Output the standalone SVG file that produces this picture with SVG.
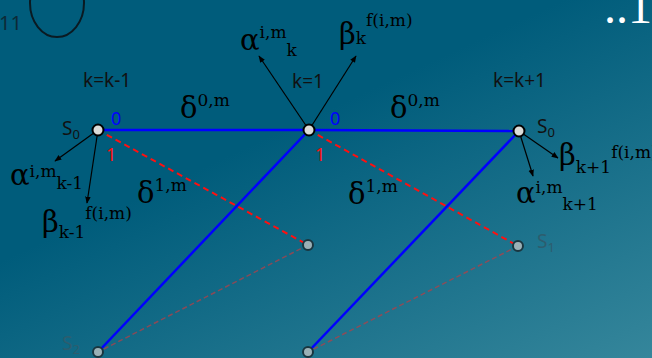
<svg xmlns="http://www.w3.org/2000/svg" width="652" height="358" viewBox="0 0 652 358">
<defs>
<linearGradient id="bg" x1="0.45" y1="0.35" x2="1" y2="1">
<stop offset="0" stop-color="#005c7b"/>
<stop offset="1" stop-color="#35869b"/>
</linearGradient>
<marker id="ah" viewBox="0 0 10 10" refX="9" refY="5" markerWidth="7" markerHeight="7" orient="auto" markerUnits="userSpaceOnUse">
<path d="M0,1 L10,5 L0,9 z" fill="#000"/>
</marker>
<style>
.sans{font-family:"Noto Sans","DejaVu Sans",sans-serif;fill:#111}
.m{font-family:"DejaVu Serif","Liberation Serif",serif;fill:#000}
.g{font-size:29px}
.s{font-size:17px}
.blue{stroke:#0000ff;stroke-width:2.5;fill:none}
.red{stroke:#ff1010;stroke-width:2;stroke-dasharray:6 4;fill:none}
.thin{stroke:#b04048;stroke-width:1.5;stroke-dasharray:5 3;fill:none;opacity:0.75}
.arr{stroke:#000;stroke-width:1.2;fill:none;marker-end:url(#ah)}
.top{fill:#dcdcd8;stroke:#000;stroke-width:2}
.low{fill:#9ab0b6;stroke:#1a3640;stroke-width:2}
</style>
</defs>
<rect width="652" height="358" fill="url(#bg)"/>
<text x="-1" y="30" class="sans" style="font-size:20px;fill:#0d2a36">11</text>
<ellipse cx="57" cy="3" rx="27" ry="34" fill="none" stroke="#0a1a22" stroke-width="2"/>
<text x="604" y="23" style="font-family:'Liberation Serif',serif;font-size:48px;fill:#ffffff">..1</text>

<g id="connectors">
<line class="blue" x1="98" y1="130" x2="309" y2="130"/>
<line class="blue" x1="309" y1="130" x2="519" y2="131"/>
<line class="blue" x1="309" y1="130" x2="98" y2="352"/>
<line class="blue" x1="519" y1="131" x2="308" y2="352"/>
<line class="red" x1="98" y1="130" x2="308" y2="245"/>
<line class="red" x1="309" y1="130" x2="518" y2="246"/>
<line class="thin" x1="308" y1="245" x2="98" y2="352"/>
<line class="thin" x1="518" y1="246" x2="308" y2="352"/>
<line class="arr" x1="98" y1="130" x2="55" y2="161"/>
<line class="arr" x1="98" y1="130" x2="87" y2="203"/>
<line class="arr" x1="309" y1="130" x2="259" y2="56"/>
<line class="arr" x1="309" y1="130" x2="356" y2="56"/>
<line class="arr" x1="519" y1="131" x2="558" y2="158"/>
<line class="arr" x1="519" y1="131" x2="533" y2="176"/>
<text x="111" y="125" style="font-family:'Noto Sans',sans-serif;font-size:18px;fill:#0000ff">0</text>
<text x="106" y="161" style="font-family:'Noto Sans',sans-serif;font-size:18px;fill:#ff1010">1</text>
<text x="330" y="125" style="font-family:'Noto Sans',sans-serif;font-size:18px;fill:#0000ff">0</text>
<text x="315" y="161" style="font-family:'Noto Sans',sans-serif;font-size:18px;fill:#ff1010">1</text>
<text x="180" y="118" class="m"><tspan class="g">δ</tspan><tspan class="s" dy="-12">0,m</tspan></text>
<text x="390" y="118" class="m"><tspan class="g">δ</tspan><tspan class="s" dy="-12">0,m</tspan></text>
<text x="137" y="203" class="m"><tspan class="g">δ</tspan><tspan class="s" dy="-12">1,m</tspan></text>
<text x="348" y="204" class="m"><tspan class="g">δ</tspan><tspan class="s" dy="-12">1,m</tspan></text>
</g>

<g id="node-a">
<circle class="top" cx="98" cy="130" r="5.5"/>
<text x="62" y="135" class="sans" style="font-size:19px">S<tspan dy="4" style="font-size:13px">0</tspan></text>
<text x="83" y="87" class="sans" style="font-size:19px">k=k-1</text>
<text x="10" y="185" class="m"><tspan class="g">α</tspan><tspan class="s" dy="-8">i,m</tspan><tspan class="s" dy="12">k-1</tspan></text>
<text x="42" y="232" class="m"><tspan class="g">β</tspan><tspan class="s" dy="6">k-1</tspan><tspan class="s" dy="-19">f(i,m)</tspan></text>
</g>
<g id="node-b">
<circle class="top" cx="309" cy="130" r="5.5"/>
<text x="292" y="88" class="sans" style="font-size:19px">k=1</text>
<text x="240" y="50" class="m"><tspan class="g">α</tspan><tspan class="s" dy="-12">i,m</tspan><tspan class="s" dy="18">k</tspan></text>
<text x="339" y="44" class="m"><tspan class="g">β</tspan><tspan class="s" dy="0">k</tspan><tspan class="s" dy="-18">f(i,m)</tspan></text>
</g>
<g id="node-c">
<circle class="top" cx="519" cy="131" r="5.5"/>
<text x="493" y="87" class="sans" style="font-size:19px">k=k+1</text>
<text x="537" y="133" class="sans" style="font-size:19px">S<tspan dy="4" style="font-size:13px">0</tspan></text>
<text x="559" y="165" class="m"><tspan class="g">β</tspan><tspan class="s" dy="8">k+1</tspan><tspan class="s" dy="-15">f(i,m)</tspan></text>
<text x="516" y="203" class="m"><tspan class="g">α</tspan><tspan class="s" dy="-10">i,m</tspan><tspan class="s" dy="17">k+1</tspan></text>
</g>
<g id="node-d">
<circle class="low" cx="308" cy="245" r="5"/>
</g>
<g id="node-e">
<circle class="low" cx="518" cy="246" r="5"/>
<text x="537" y="248" class="sans" style="font-size:19px;fill:#2d5d6e">S<tspan dy="4" style="font-size:13px">1</tspan></text>
</g>
<g id="node-f">
<circle class="low" cx="98" cy="352" r="5"/>
<text x="62" y="350" class="sans" style="font-size:19px;fill:#2d5d6e">S<tspan dy="4" style="font-size:13px">2</tspan></text>
</g>
<g id="node-g">
<circle class="low" cx="308" cy="352" r="5"/>
</g>
</svg>
